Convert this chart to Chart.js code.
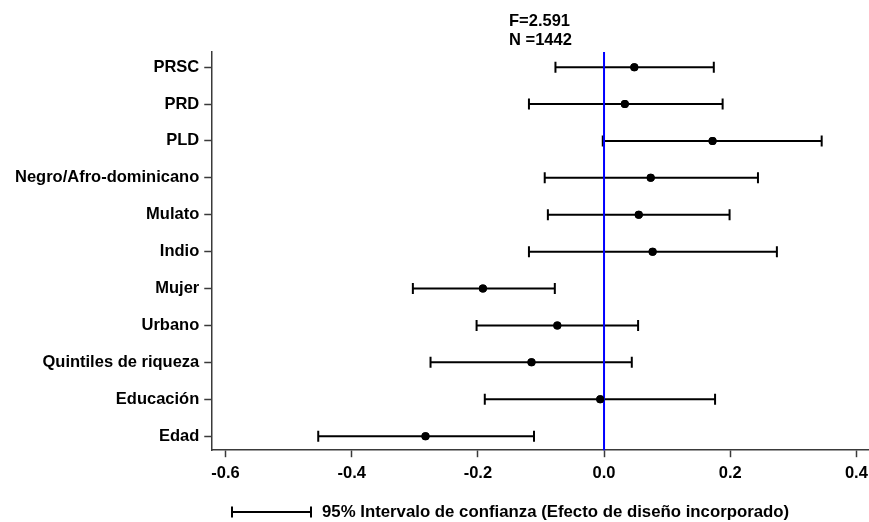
<!DOCTYPE html>
<html>
<head>
<meta charset="utf-8">
<script src="https://cdn.jsdelivr.net/npm/chart.js@4"></script>
<style>
  body { margin: 0; background: #fff; }
</style>
</head>
<body>
<canvas id="c" width="869" height="522"></canvas>
<script>
const categories = ['PRSC', 'PRD', 'PLD', 'Negro/Afro-dominicano', 'Mulato', 'Indio',
  'Mujer', 'Urbano', 'Quintiles de riqueza', 'Educación', 'Edad']
const estimates = [0.048, 0.033, 0.172, 0.074, 0.055, 0.077, -0.192, -0.074, -0.115, -0.006, -0.283]
const lower = [-0.077, -0.119, -0.002, -0.094, -0.089, -0.119, -0.303, -0.202, -0.275, -0.189, -0.453]
const upper = [0.174, 0.188, 0.345, 0.244, 0.199, 0.274, -0.078, 0.054, 0.044, 0.176, -0.111]
const xTicks = [-0.6, -0.4, -0.2, 0.0, 0.2, 0.4]
const titleLines = ['F=2.591', 'N =1442']
const legendText = '95% Intervalo de confianza (Efecto de diseño incorporado)'

const FONT = "'Liberation Sans', Arial, sans-serif"
const FS = 16.5
const axisColor = '#3a3a3a'

// one dataset per interval: a line with vertical caps at both ends
var ciSets = categories.map(function(name, i) {
  return {
    label: name,
    data: [{x: lower[i], y: i}, {x: upper[i], y: i}],
    showLine: true,
    borderColor: '#000',
    borderWidth: 2,
    pointStyle: 'line',
    pointRotation: 90,
    pointRadius: 5.5,
    pointHoverRadius: 5.5,
    pointBorderColor: '#000',
    pointBorderWidth: 2
  }
})

var estSet = {
  label: 'estimate',
  data: estimates.map(function(v, i) { return {x: v, y: i} }),
  showLine: false,
  pointRadius: 4,
  pointBackgroundColor: '#000',
  pointBorderColor: '#000',
  pointBorderWidth: 0
}

const zeroLine = {
  id: 'zeroLine',
  afterDatasetsDraw(chart) {
    var ctx = chart.ctx, area = chart.chartArea
    var x = chart.scales.x.getPixelForValue(0)
    ctx.save()
    ctx.strokeStyle = '#0000ff'
    ctx.lineWidth = 2
    ctx.beginPath()
    ctx.moveTo(x, area.top)
    ctx.lineTo(x, area.bottom)
    ctx.stroke()
    // dots on top of the reference line
    var meta = chart.getDatasetMeta(chart.data.datasets.length - 1)
    meta.data.forEach(function(pt) {
      ctx.fillStyle = '#000'
      ctx.beginPath()
      ctx.arc(pt.x, pt.y, 4, 0, Math.PI * 2)
      ctx.fill()
    })
    ctx.restore()
  }
}

const texts = {
  id: 'texts',
  afterDraw(chart) {
    var ctx = chart.ctx
    ctx.save()
    ctx.fillStyle = '#000'
    ctx.font = 'bold ' + FS + 'px ' + FONT
    ctx.textBaseline = 'middle'
    ctx.textAlign = 'left'
    ctx.fillText(titleLines[0], 509, 21)
    ctx.fillText(titleLines[1], 509, 40)

    // legend: capped line + text
    var y = 512, x0 = 232, x1 = 311
    ctx.strokeStyle = '#000'
    ctx.lineWidth = 2
    ctx.beginPath()
    ctx.moveTo(x0, y); ctx.lineTo(x1, y)
    ctx.moveTo(x0, y - 5.5); ctx.lineTo(x0, y + 5.5)
    ctx.moveTo(x1, y - 5.5); ctx.lineTo(x1, y + 5.5)
    ctx.stroke()
    ctx.font = 'bold 16.8px ' + FONT
    ctx.fillText(legendText, 322, y)
    ctx.restore()
  }
}

new Chart(document.getElementById('c'), {
  type: 'scatter',
  data: { datasets: ciSets.concat([estSet]) },
  options: {
    responsive: false,
    animation: false,
    layout: { autoPadding: false, padding: { top: 52, left: 10, right: 0, bottom: 33 } },
    plugins: {
      legend: { display: false },
      tooltip: { enabled: false },
      title: { display: false }
    },
    scales: {
      x: {
        type: 'linear',
        min: -0.621,
        max: 0.42,
        afterBuildTicks: function(scale) {
          scale.ticks = xTicks.map(function(v) { return {value: v} })
        },
        afterFit: function(scale) {
          // let the axis run to the right edge like the original
          scale.paddingRight = 0
        },
        ticks: {
          color: '#000',
          font: { family: FONT, size: FS, weight: 'bold' },
          padding: 6,
          maxRotation: 0,
          callback: function(v) { return Number(v).toFixed(1) }
        },
        grid: { drawOnChartArea: false, tickLength: 7, color: axisColor, tickWidth: 1.5 },
        border: { color: axisColor, width: 1.5 }
      },
      y: {
        type: 'linear',
        reverse: true,
        min: -0.41,
        max: 10.38,
        afterBuildTicks: function(scale) {
          scale.ticks = categories.map(function(c, i) { return {value: i} })
        },
        ticks: {
          color: '#000',
          font: { family: FONT, size: FS, weight: 'bold' },
          padding: 5,
          callback: function(v) { return categories[v] }
        },
        grid: { drawOnChartArea: false, tickLength: 8, color: axisColor, tickWidth: 1.5 },
        border: { color: axisColor, width: 1.5 }
      }
    }
  },
  plugins: [zeroLine, texts]
})
</script>
</body>
</html>
